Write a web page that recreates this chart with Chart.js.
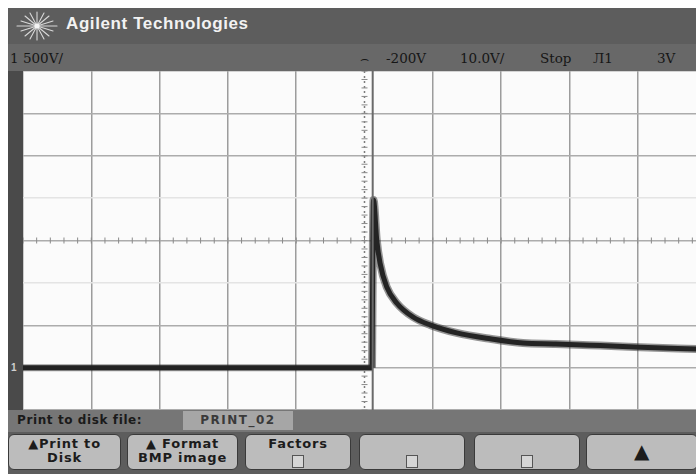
<!DOCTYPE html>
<html>
<head>
<meta charset="utf-8">
<script src="https://cdn.jsdelivr.net/npm/chart.js@4"></script>
<style>
  html, body { margin: 0; padding: 0; width: 696px; height: 474px; overflow: hidden; background: #fff; }
  .abs { position: absolute; }
  #frame { left: 8px; top: 8px; width: 710px; height: 466px; background: #5d5d5d; }
  #statusband { left: 8px; top: 44px; width: 710px; height: 27px; background: #686868; }
  #brand { left: 66px; top: 14px; color: #f2f2f2; font: bold 17px "Liberation Sans", Arial, sans-serif; letter-spacing: 0.6px; }
  .status { top: 50px; color: #161616; font: 13.5px "DejaVu Serif", serif; white-space: nowrap; }
  #leftbar { left: 8px; top: 71px; width: 15px; height: 339px; background: #4a4a4a; }
  #gnd { left: 11px; top: 362px; color: #d0d0d0; font: bold 10px "Liberation Sans", sans-serif; }
  #plot { left: 23px; top: 71px; background: #fbfbfb; }
  #msgband { left: 8px; top: 410px; width: 710px; height: 22px; background: #767676; }
  #msg { left: 17px; top: 413px; color: #1a1a1a; font: bold 12px "DejaVu Sans", sans-serif; letter-spacing: 0.6px; white-space: nowrap; }
  #fname { left: 183px; top: 411px; width: 110px; height: 19px; background: #a6a6a6; color: #3a3a3a;
           font: bold 12px "DejaVu Sans", sans-serif; text-align: center; line-height: 19px; letter-spacing: 1.5px; }
  .key { top: 434px; height: 36px; background: #bcbcbc; border: 1px solid #3a3a3a; border-radius: 6px;
         box-sizing: border-box; color: #1c1c1c; font: bold 13px "DejaVu Sans", sans-serif; letter-spacing: 0.8px;
         text-align: center; line-height: 14px; padding-top: 2px; }
  .sq { display: inline-block; width: 10px; height: 11px; border: 1px solid #555; background: #d6d6d6; margin-top: 4px; }
</style>
</head>
<body>
<div id="frame" class="abs"></div>
<div id="statusband" class="abs"></div>
<svg class="abs" style="left:12px;top:10px" width="50" height="32" viewBox="0 0 50 32">
  <g stroke="#d8d8d8" stroke-width="1.1" stroke-linecap="round">
    <line x1="25" y1="2" x2="25" y2="30"/>
    <line x1="5" y1="16" x2="45" y2="16"/>
    <line x1="13" y1="6" x2="37" y2="26"/>
    <line x1="37" y1="6" x2="13" y2="26"/>
    <line x1="18" y1="3" x2="32" y2="29"/>
    <line x1="32" y1="3" x2="18" y2="29"/>
    <line x1="9" y1="11" x2="41" y2="21"/>
    <line x1="41" y1="11" x2="9" y2="21"/>
  </g>
  <circle cx="25" cy="16" r="2.5" fill="#f4f4f4"/>
</svg>
<div id="brand" class="abs">Agilent Technologies</div>

<div class="abs status" style="left:10px">1&nbsp;500V/</div>
<div class="abs status" style="left:360px">&#8994;</div>
<div class="abs status" style="left:386px">-200V</div>
<div class="abs status" style="left:460px">10.0V/</div>
<div class="abs status" style="left:540px">Stop</div>
<div class="abs status" style="left:593px">&#1051;1</div>
<div class="abs status" style="left:657px">3V</div>

<div id="leftbar" class="abs"></div>
<div id="gnd" class="abs">1</div>

<canvas id="plot" class="abs" width="683" height="339"></canvas>

<div id="msgband" class="abs"></div>
<div id="msg" class="abs">Print to disk file:</div>
<div id="fname" class="abs">PRINT_02</div>

<div class="abs key" style="left:8px;width:113px">&#9650;Print to<br>Disk</div>
<div class="abs key" style="left:127px;width:111px">&#9650; Format<br>BMP image</div>
<div class="abs key" style="left:245px;width:106px">Factors<br><span class="sq"></span></div>
<div class="abs key" style="left:359px;width:106px"><br><span class="sq"></span></div>
<div class="abs key" style="left:474px;width:106px"><br><span class="sq"></span></div>
<div class="abs key" style="left:586px;width:112px;font-size:20px;line-height:28px">&#9650;</div>

<script>
// Channel 1 trace: time in microseconds (10 us/div), volts (500 mV/div)
const baseTime  = [-50, 1.1];
const baseVolts = [-1.5, -1.5];

const pulseTime  = [1.1, 1.32, 1.79, 2.27, 3.25, 4.71, 7.10, 9.59, 13.5, 18.4, 23.2, 28.0, 34.5, 40.4, 48.6];
const pulseVolts = [-1.5, 0.478, 0.006, -0.265, -0.548, -0.737, -0.903, -0.996, -1.09, -1.16, -1.21, -1.22, -1.24, -1.26, -1.28];

// Time cursor line
const cursorTime  = [1.2, 1.2];
const cursorVolts = [-2, 2];

// Screen graticule
const timeMin = -50, timeMax = 50, timeDiv = 10;
const voltMin = -2, voltMax = 2, voltDiv = 0.5;

const toPoints = (xs, ys) => xs.map((x, i) => ({ x, y: ys[i] }));

// Dotted centre axes with minor tick marks
const centreAxes = {
  id: 'centreAxes',
  beforeDatasetsDraw(chart) {
    const { ctx, scales: { x, y }, chartArea: a } = chart;
    const cx = x.getPixelForValue(0), cy = y.getPixelForValue(0);
    ctx.save();
    ctx.strokeStyle = '#7c7c7c';
    ctx.lineWidth = 1.5;
    ctx.setLineDash([2, 3]);
    ctx.beginPath();
    ctx.moveTo(cx, a.top); ctx.lineTo(cx, a.bottom);
    ctx.stroke();
    ctx.setLineDash([]);
    ctx.lineWidth = 1;
    ctx.strokeStyle = '#8a8a8a';
    ctx.beginPath();
    for (let t = timeMin; t <= timeMax; t += timeDiv / 5) {
      const px = x.getPixelForValue(t);
      ctx.moveTo(px, cy - 3); ctx.lineTo(px, cy + 3);
    }
    for (let v = voltMin; v <= voltMax + 1e-9; v += voltDiv / 5) {
      const py = y.getPixelForValue(v);
      ctx.moveTo(cx - 3, py); ctx.lineTo(cx + 3, py);
    }
    ctx.stroke();
    ctx.restore();
  }
};

const trace = toPoints(pulseTime, pulseVolts);
const base = toPoints(baseTime, baseVolts);

new Chart(document.getElementById('plot'), {
  type: 'line',
  data: {
    datasets: [
      { data: toPoints(cursorTime, cursorVolts), borderColor: '#6a6a6a', borderWidth: 2, tension: 0 },
      { data: base, borderColor: 'rgba(45,45,45,0.45)', borderWidth: 7, tension: 0 },
      { data: trace, borderColor: 'rgba(45,45,45,0.5)', borderWidth: 8, cubicInterpolationMode: 'monotone' },
      { data: base, borderColor: '#1b1b1b', borderWidth: 5, tension: 0 },
      { data: trace, borderColor: '#1b1b1b', borderWidth: 5, cubicInterpolationMode: 'monotone' }
    ]
  },
  options: {
    responsive: false,
    animation: false,
    events: [],
    layout: { padding: 0 },
    elements: { point: { radius: 0 } },
    plugins: { legend: { display: false }, tooltip: { enabled: false } },
    scales: {
      x: {
        type: 'linear', min: timeMin, max: timeMax,
        ticks: { display: false, stepSize: timeDiv },
        grid: { drawTicks: false, lineWidth: 1.5,
                color: c => c.tick.value === 0 ? 'rgba(0,0,0,0)' : '#9c9c9c' },
        border: { display: false }
      },
      y: {
        type: 'linear', min: voltMin, max: voltMax,
        ticks: { display: false, stepSize: voltDiv },
        grid: { drawTicks: false, lineWidth: 1.5,
                color: c => (Math.abs(c.tick.value) === 0.5 ? '#e4e4e4' : '#acacac') },
        border: { display: false }
      }
    }
  },
  plugins: [centreAxes]
});
</script>
</body>
</html>
